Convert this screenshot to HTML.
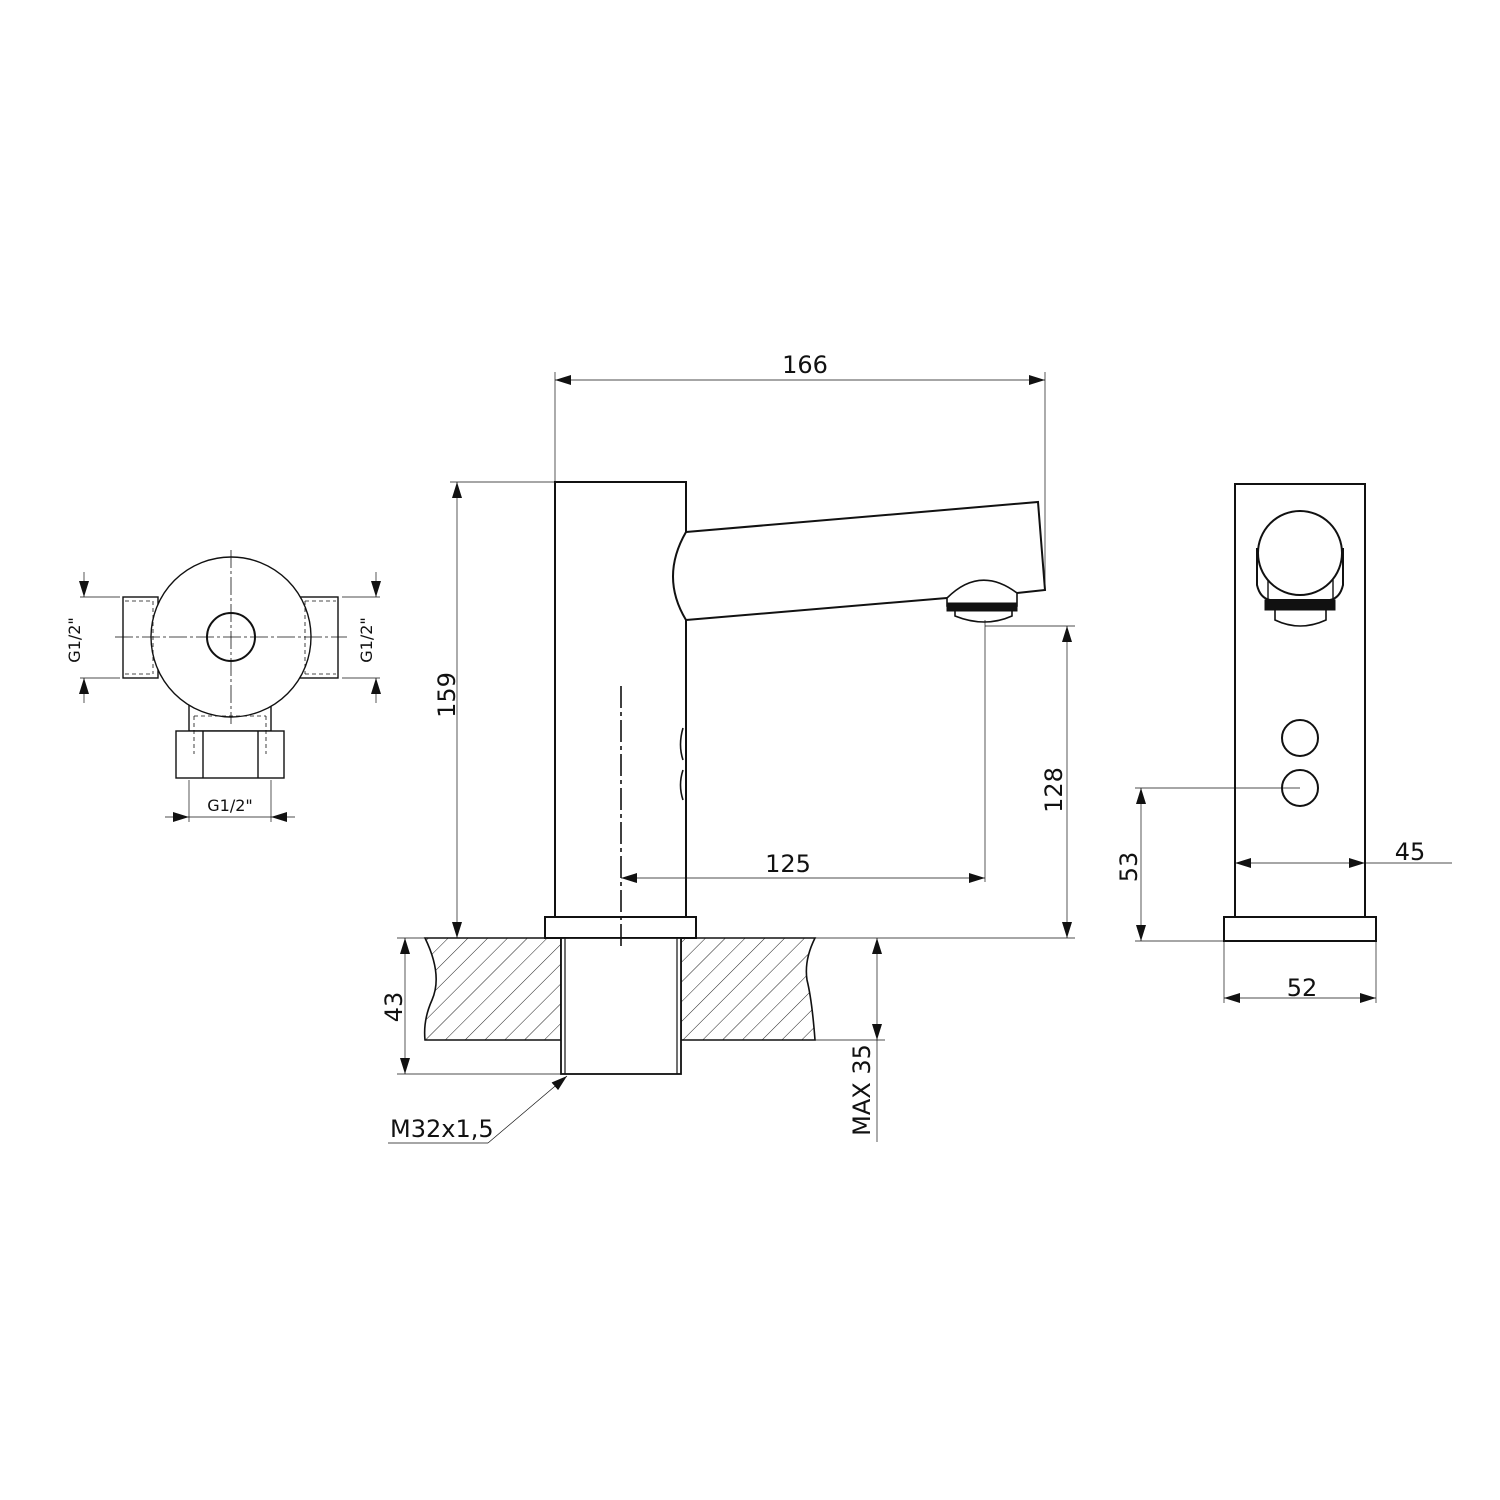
<!DOCTYPE html>
<html><head><meta charset="utf-8"><style>html,body{margin:0;padding:0;background:#fff}svg{display:block}text{font-family:"DejaVu Sans","Liberation Sans",sans-serif;fill:#111}</style></head><body>
<svg width="1500" height="1500" viewBox="0 0 1500 1500" xmlns="http://www.w3.org/2000/svg">
<defs>
<marker id="a" viewBox="0 0 16 10" refX="16" refY="5" markerWidth="16" markerHeight="10" markerUnits="userSpaceOnUse" orient="auto"><path d="M0,0 L16,5 L0,10 Z" fill="#111"/></marker>
<pattern id="h" patternUnits="userSpaceOnUse" width="14" height="14" patternTransform="rotate(45)"><line x1="0" y1="0" x2="0" y2="14" stroke="#222" stroke-width="1"/></pattern>
</defs>
<g fill="none" stroke="#111">
<!-- LEFT VIEW -->
<g stroke-width="1.4">
<rect x="123" y="597" width="35" height="81" fill="#fff"/>
<rect x="300" y="597" width="38" height="81" fill="#fff"/>
<rect x="189" y="700" width="82" height="31" fill="#fff"/>
<circle cx="231" cy="637" r="80" fill="#fff"/>
<circle cx="231" cy="637" r="24" stroke-width="2"/>
<rect x="176" y="731" width="108" height="47" fill="#fff"/>
<line x1="203" y1="731" x2="203" y2="778"/><line x1="258" y1="731" x2="258" y2="778"/>
</g>
<g stroke-width="0.8" stroke-dasharray="4,3">
<line x1="125" y1="601" x2="153" y2="601"/><line x1="125" y1="674" x2="153" y2="674"/>
<line x1="153" y1="601" x2="153" y2="674"/>
<line x1="305" y1="601" x2="336" y2="601"/><line x1="305" y1="674" x2="336" y2="674"/>
<line x1="305" y1="601" x2="305" y2="674"/>
<line x1="194" y1="716" x2="266" y2="716"/>
<line x1="194" y1="716" x2="194" y2="754"/><line x1="266" y1="716" x2="266" y2="754"/>
</g>
<g stroke-width="0.8" stroke-dasharray="18,3,3,3">
<line x1="115" y1="637" x2="347" y2="637"/>
<line x1="231" y1="550" x2="231" y2="724"/>
</g>
<g stroke-width="0.7">
<line x1="80" y1="597" x2="120" y2="597"/><line x1="80" y1="678" x2="120" y2="678"/>
<line x1="84" y1="572" x2="84" y2="597" marker-end="url(#a)"/><line x1="84" y1="703" x2="84" y2="678" marker-end="url(#a)"/>
<line x1="342" y1="597" x2="380" y2="597"/><line x1="342" y1="678" x2="380" y2="678"/>
<line x1="376" y1="572" x2="376" y2="597" marker-end="url(#a)"/><line x1="376" y1="703" x2="376" y2="678" marker-end="url(#a)"/>
<line x1="189" y1="780" x2="189" y2="822"/><line x1="271" y1="780" x2="271" y2="822"/>
<line x1="165" y1="817" x2="189" y2="817" marker-end="url(#a)"/><line x1="295" y1="817" x2="271" y2="817" marker-end="url(#a)"/>
<line x1="189" y1="817" x2="271" y2="817"/>
</g>
<!-- MAIN VIEW -->
<g stroke-width="2">
<path d="M686,532 L686,482 L555,482 L555,917"/>
<path d="M686,620 L686,917"/>
<path d="M686,532 L1038,502 L1045,590 L1017,593"/>
<path d="M686,620 L947,598"/>
<path d="M686,532 Q660,577 686,620"/>
<path d="M947,598 Q980,565 1017,593 L1017,606 L947,606 Z" fill="#fff" stroke-width="1.6"/>
<rect x="947" y="603" width="70" height="8" fill="#111" stroke-width="1"/>
<path d="M955,611 L955,616 Q985,628 1012,616 L1012,611" stroke-width="1.6"/>
<rect x="545" y="917" width="151" height="21" fill="#fff"/>
</g>
<path d="M683,728 Q678,745 683,760 M683,770 Q678,785 683,800" stroke-width="1.6"/>
<!-- counter -->
<path d="M425,938 L561,938 L561,1040 L425,1040 Q423,1020 432,1000 Q443,975 425,938 Z" fill="url(#h)" stroke-width="1.6"/>
<path d="M681,938 L815,938 Q804,960 807,980 Q812,1000 815,1040 L681,1040 Z" fill="url(#h)" stroke-width="1.6"/>
<rect x="561" y="938" width="120" height="136" fill="#fff" stroke-width="1.8"/>
<line x1="565" y1="938" x2="565" y2="1074" stroke-width="1.2"/>
<line x1="677" y1="938" x2="677" y2="1074" stroke-width="1.2"/>
<line x1="621" y1="686" x2="621" y2="948" stroke-width="1.6" stroke-dasharray="22,4,4,4"/>
<g stroke-width="0.7">
<line x1="555" y1="372" x2="555" y2="482"/><line x1="1045" y1="372" x2="1045" y2="590"/>
<line x1="800" y1="380" x2="555" y2="380" marker-end="url(#a)"/><line x1="800" y1="380" x2="1045" y2="380" marker-end="url(#a)"/>
<line x1="450" y1="482" x2="555" y2="482"/>
<line x1="457" y1="700" x2="457" y2="482" marker-end="url(#a)"/><line x1="457" y1="700" x2="457" y2="938" marker-end="url(#a)"/>
<line x1="985" y1="620" x2="985" y2="882"/>
<line x1="985" y1="626" x2="1075" y2="626"/><line x1="815" y1="938" x2="1075" y2="938"/>
<line x1="1067" y1="780" x2="1067" y2="626" marker-end="url(#a)"/><line x1="1067" y1="780" x2="1067" y2="938" marker-end="url(#a)"/>
<line x1="800" y1="878" x2="621" y2="878" marker-end="url(#a)"/><line x1="800" y1="878" x2="985" y2="878" marker-end="url(#a)"/>
<line x1="397" y1="938" x2="425" y2="938"/><line x1="397" y1="1074" x2="561" y2="1074"/>
<line x1="405" y1="1000" x2="405" y2="938" marker-end="url(#a)"/><line x1="405" y1="1000" x2="405" y2="1074" marker-end="url(#a)"/>
<line x1="815" y1="1040" x2="885" y2="1040"/><line x1="877" y1="1040" x2="877" y2="1142"/>
<line x1="877" y1="990" x2="877" y2="938" marker-end="url(#a)"/><line x1="877" y1="990" x2="877" y2="1040" marker-end="url(#a)"/>
<line x1="388" y1="1143" x2="488" y2="1143"/><line x1="488" y1="1143" x2="567" y2="1076" marker-end="url(#a)"/>
</g>
<!-- RIGHT VIEW -->
<g stroke-width="2">
<path d="M1235,917 L1235,484 L1365,484 L1365,917"/>
<rect x="1224" y="917" width="152" height="24" fill="#fff"/>
<path d="M1257,548 L1257,585 Q1260,598 1270,600 L1330,600 Q1340,598 1343,585 L1343,548"/>
<line x1="1268" y1="580" x2="1268" y2="600" stroke-width="1.4"/><line x1="1333" y1="580" x2="1333" y2="600" stroke-width="1.4"/>
<circle cx="1300" cy="553" r="42" fill="#fff"/>
<rect x="1265" y="600" width="70" height="10" fill="#111" stroke-width="1"/>
<path d="M1275,610 L1275,620 Q1300,632 1326,620 L1326,610" stroke-width="1.6"/>
<circle cx="1300" cy="738" r="18"/>
<circle cx="1300" cy="788" r="18"/>
</g>
<g stroke-width="0.7">
<line x1="1135" y1="788" x2="1300" y2="788"/><line x1="1135" y1="941" x2="1224" y2="941"/>
<line x1="1141" y1="860" x2="1141" y2="788" marker-end="url(#a)"/><line x1="1141" y1="860" x2="1141" y2="941" marker-end="url(#a)"/>
<line x1="1300" y1="863" x2="1235" y2="863" marker-end="url(#a)"/><line x1="1300" y1="863" x2="1365" y2="863" marker-end="url(#a)"/>
<line x1="1365" y1="863" x2="1452" y2="863"/>
<line x1="1224" y1="941" x2="1224" y2="1003"/><line x1="1376" y1="941" x2="1376" y2="1003"/>
<line x1="1300" y1="998" x2="1224" y2="998" marker-end="url(#a)"/><line x1="1300" y1="998" x2="1376" y2="998" marker-end="url(#a)"/>
</g>
</g>
<!-- TEXT -->
<g font-size="24">
<text x="805" y="373" text-anchor="middle">166</text>
<text x="788" y="872" text-anchor="middle">125</text>
<text x="1410" y="860" text-anchor="middle">45</text>
<text x="1302" y="996" text-anchor="middle">52</text>
<text x="390" y="1137">M32x1,5</text>
<text transform="translate(455,695) rotate(-90)" text-anchor="middle">159</text>
<text transform="translate(1062,790) rotate(-90)" text-anchor="middle">128</text>
<text transform="translate(402,1007) rotate(-90)" text-anchor="middle">43</text>
<text transform="translate(1137,867) rotate(-90)" text-anchor="middle">53</text>
<text transform="translate(870,1090) rotate(-90)" text-anchor="middle">MAX 35</text>
</g>
<g font-size="16">
<text x="230" y="811" text-anchor="middle">G1/2"</text>
<text transform="translate(80,640) rotate(-90)" text-anchor="middle">G1/2"</text>
<text transform="translate(372,640) rotate(-90)" text-anchor="middle">G1/2"</text>
</g>
</svg>
</body></html>
